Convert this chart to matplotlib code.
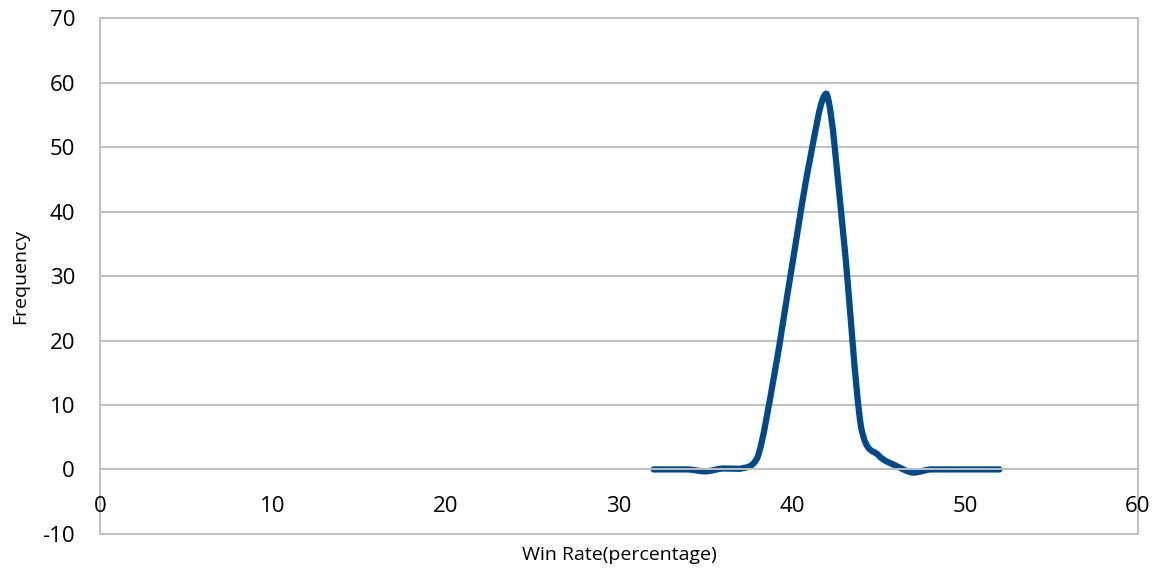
import matplotlib
matplotlib.use("Agg")
from matplotlib import pyplot as plt
from matplotlib.path import Path
from matplotlib.patches import PathPatch, Rectangle

# win rate bins (percentage) and frequency
win_rate = [32, 33, 34, 35, 36, 37, 38, 39, 40, 41, 42, 43, 44, 45, 46, 47, 48, 49, 50, 51, 52]
frequency = [0, 0, 0, -0.3, 0.15, 0.1, 1.8, 15, 31.5, 47.5, 58.3, 35.6, 6.5, 2.2, 0.6, -0.5, 0, 0, 0, 0, 0]

x_ticks = [0, 10, 20, 30, 40, 50, 60]
y_ticks = [-10, 0, 10, 20, 30, 40, 50, 60, 70]

line_color = '#004A8C'
grid_color = '#BFBFBF'
plt.rcParams['font.family'] = ['Open Sans', 'DejaVu Sans']
plt.rcParams['axes.unicode_minus'] = False


def smooth_path(xs, ys):
    # smoothed line: catmull-rom beziers, control points kept inside each segment
    pts = list(zip(xs, ys))
    verts = [pts[0]]
    codes = [Path.MOVETO]
    n = len(pts)
    for i in range(n - 1):
        p0 = pts[i - 1] if i > 0 else pts[i]
        p1 = pts[i]
        p2 = pts[i + 1]
        p3 = pts[i + 2] if i + 2 < n else pts[i + 1]
        lo, hi = min(p1[1], p2[1]), max(p1[1], p2[1])
        y1 = min(max(p1[1] + (p2[1] - p0[1]) / 6, lo), hi)
        y2 = min(max(p2[1] - (p3[1] - p1[1]) / 6, lo), hi)
        c1 = (p1[0] + (p2[0] - p0[0]) / 6, y1)
        c2 = (p2[0] - (p3[0] - p1[0]) / 6, y2)
        verts += [c1, c2, p2]
        codes += [Path.CURVE4] * 3
    return Path(verts, codes)


fig = plt.figure(figsize=(11.59, 5.71), dpi=100)
ax = fig.add_axes([0.0863, 0.065, 0.8955, 0.903])

ax.set_xlim(0, 60)
ax.set_ylim(-10, 70)
ax.set_xticks(x_ticks)
ax.set_yticks(y_ticks)

ax.yaxis.grid(True, color=grid_color, linewidth=1.4)
ax.set_axisbelow(True)

for s in ['top', 'right', 'left']:
    ax.spines[s].set_visible(False)
ax.spines['bottom'].set_position(('data', 0))
ax.spines['bottom'].set_color(grid_color)
ax.spines['bottom'].set_linewidth(1.4)

# plot area border
ax.add_patch(Rectangle((0, 0), 1, 1, transform=ax.transAxes, fill=False,
                       edgecolor=grid_color, linewidth=1.4, clip_on=False, zorder=0))

ax.tick_params(axis='both', length=0, labelsize=16, colors='black')
ax.tick_params(axis='x', pad=19)
ax.tick_params(axis='y', pad=18)

patch = PathPatch(smooth_path(win_rate, frequency), facecolor='none',
                  edgecolor=line_color, linewidth=4.5, capstyle='round', joinstyle='round')
ax.add_patch(patch)

ax.set_xlabel('Win Rate(percentage)', fontsize=14)
ax.set_ylabel('Frequency', fontsize=14)
ax.xaxis.set_label_coords(0.5, -0.04)
ax.xaxis.label.set_verticalalignment('center')
ax.yaxis.set_label_coords(-0.077, 0.5)
ax.yaxis.label.set_verticalalignment('center')

fig.savefig('out.png', dpi=100)
